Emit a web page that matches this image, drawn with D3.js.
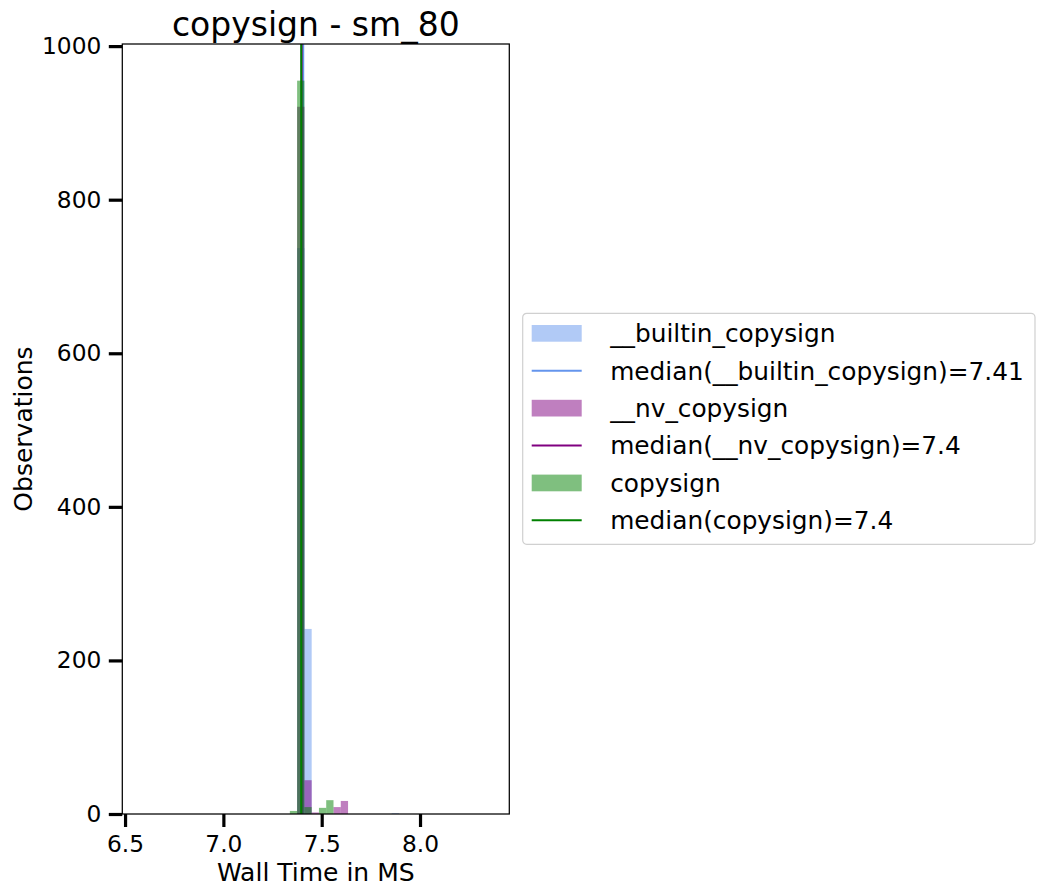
<!DOCTYPE html>
<html>
<head>
<meta charset="utf-8">
<script src="https://cdn.jsdelivr.net/npm/d3@7"></script>
<style>
  body { margin: 0; background: #fff; }
  svg text { font-family: "DejaVu Sans", sans-serif; fill: #000; }
</style>
</head>
<body>
<svg id="chart" width="1047" height="896"></svg>
<script>
// histogram data (shared bins)
var binStarts = [7.338, 7.375, 7.412, 7.449, 7.486, 7.523, 7.560, 7.597, 7.856];
var binWidth = 0.037;
var builtinCounts  = [0, 737, 241, 0, 0, 0, 0, 0, 1];
var nvCounts       = [0, 921, 44, 2, 0, 0, 9, 17, 0];
var copysignCounts = [4, 955, 9, 0, 8, 18, 0, 0, 0];

var seriesNames = ["__builtin_copysign", "__nv_copysign", "copysign"];
var medians = [7.406, 7.398, 7.396];
var lineColors = ["cornflowerblue", "purple", "green"];

var xTicks = [6.5, 7.0, 7.5, 8.0];
var yTicks = [0, 200, 400, 600, 800, 1000];

var svg = d3.select("#chart");
var margin = {top: 44, left: 122.3, right: 509.3, bottom: 814};

var x = d3.scaleLinear().domain([6.486, 8.454]).range([margin.left, margin.right]);
var y = d3.scaleLinear().domain([0, 955 * 1.05]).range([margin.bottom, margin.top]);

var plot = svg.append("g");

var allCounts = [builtinCounts, nvCounts, copysignCounts];

allCounts.forEach(function(counts, s) {
  // hist
  plot.append("g").selectAll("rect")
    .data(binStarts.map(function(b, i) { return {x0: b, n: counts[i]}; }).filter(function(d) { return d.n > 0; }))
    .enter().append("rect")
      .attr("x", function(d) { return x(d.x0); })
      .attr("width", function(d) { return x(d.x0 + binWidth) - x(d.x0); })
      .attr("y", function(d) { return y(d.n); })
      .attr("height", function(d) { return y(0) - y(d.n); })
      .attr("fill", lineColors[s])
      .attr("fill-opacity", 0.5);
  // median line
  plot.append("line")
    .attr("x1", x(medians[s])).attr("x2", x(medians[s]))
    .attr("y1", margin.top).attr("y2", margin.bottom)
    .attr("stroke", lineColors[s])
    .attr("stroke-width", 2);
});

// frame
svg.append("rect")
  .attr("x", margin.left).attr("y", margin.top)
  .attr("width", margin.right - margin.left)
  .attr("height", margin.bottom - margin.top)
  .attr("fill", "none").attr("stroke", "#000").attr("stroke-width", 1.25);

// axes
var xAxis = svg.append("g")
  .attr("transform", "translate(0," + margin.bottom + ")")
  .call(d3.axisBottom(x).tickValues(xTicks).tickFormat(d3.format(".1f")).tickSize(13).tickPadding(8.5));
var yAxis = svg.append("g")
  .attr("transform", "translate(" + margin.left + ",0)")
  .call(d3.axisLeft(y).tickValues(yTicks).tickFormat(d3.format("d")).tickSize(13.5).tickPadding(7.5));

[xAxis, yAxis].forEach(function(a) {
  a.select(".domain").remove();
  a.selectAll(".tick line").attr("stroke", "#000").attr("stroke-width", 3.2);
  a.selectAll(".tick text").style("font-size", "23.3px").attr("fill", "#000");
});

// titles
svg.append("text")
  .attr("x", (margin.left + margin.right) / 2).attr("y", 36)
  .attr("text-anchor", "middle").style("font-size", "33px")
  .text("copysign - sm_80");
svg.append("text")
  .attr("x", (margin.left + margin.right) / 2).attr("y", 881)
  .attr("text-anchor", "middle").style("font-size", "25px")
  .text("Wall Time in MS");
svg.append("text")
  .attr("transform", "translate(32," + ((margin.top + margin.bottom) / 2) + ") rotate(-90)")
  .attr("text-anchor", "middle").style("font-size", "25px")
  .text("Observations");

// legend
var fmt = function(v) { return String(+v.toFixed(2)); };
var entries = [];
seriesNames.forEach(function(n, i) {
  entries.push({type: "patch", label: n, color: lineColors[i]});
  entries.push({type: "line", label: "median(" + n + ")=" + fmt(medians[i]), color: lineColors[i]});
});

var leg = svg.append("g").attr("transform", "translate(522.7,313.3)");
leg.append("rect")
  .attr("width", 512.3).attr("height", 231).attr("rx", 4)
  .attr("fill", "#fff").attr("fill-opacity", 0.8)
  .attr("stroke", "#d0d0d0").attr("stroke-width", 1.2);

var row = leg.selectAll(".entry").data(entries).enter().append("g")
  .attr("class", "entry")
  .attr("transform", function(d, i) { return "translate(0," + (20 + i * 37.4) + ")"; });

row.filter(function(d) { return d.type == "patch"; }).append("rect")
  .attr("x", 9).attr("y", -8.3).attr("width", 50).attr("height", 16.7)
  .attr("fill", function(d) { return d.color; }).attr("fill-opacity", 0.5);
row.filter(function(d) { return d.type == "line"; }).append("line")
  .attr("x1", 9).attr("x2", 59).attr("y1", 0).attr("y2", 0)
  .attr("stroke", function(d) { return d.color; }).attr("stroke-width", 2);
row.append("text")
  .attr("x", 87.5).attr("y", 8.8)
  .style("font-size", "24.8px")
  .text(function(d) { return d.label; });
</script>
</body>
</html>
